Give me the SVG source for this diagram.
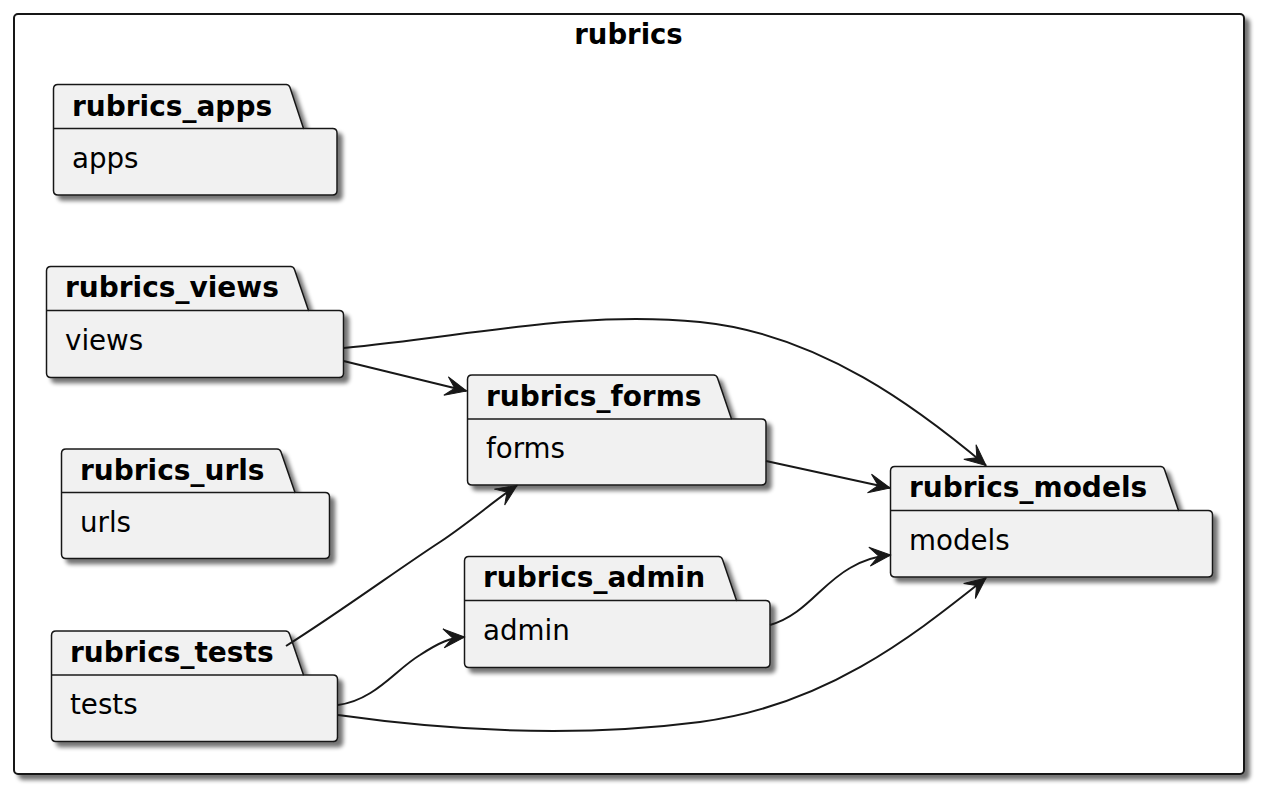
<svg xmlns="http://www.w3.org/2000/svg" width="1266" height="796" viewBox="0 0 1266 796">
<style>
.pk{fill:#F1F1F1;stroke:#181818;stroke-width:1.5;filter:url(#sh)}
.sep{fill:none;stroke:#181818;stroke-width:1.5}
.tt{font-family:"DejaVu Sans",sans-serif;font-weight:bold;font-size:28px;fill:#000}
.bt{font-family:"DejaVu Sans",sans-serif;font-size:27.7px;fill:#000}
.cn path{fill:none;stroke:#181818;stroke-width:2;marker-end:url(#arr)}
</style>
<defs>
<filter id="sh" x="-10%" y="-10%" width="130%" height="140%">
<feGaussianBlur in="SourceAlpha" stdDeviation="2"/>
<feOffset dx="5" dy="5"/>
<feComponentTransfer><feFuncA type="linear" slope="0.55"/></feComponentTransfer>
<feMerge><feMergeNode/><feMergeNode in="SourceGraphic"/></feMerge>
</filter>
<marker id="arr" markerUnits="userSpaceOnUse" orient="auto" refX="0" refY="0" markerWidth="30" markerHeight="30" viewBox="-25 -15 30 30" overflow="visible">
<path d="M0,0 L-21,-9.5 L-12,0 L-21,9.5 Z" fill="#181818" stroke="#181818" stroke-width="1"/>
</marker>
</defs>
<g id="rubrics">
<rect x="14" y="14" width="1230" height="760" rx="4" fill="#FFFFFF" stroke="#181818" stroke-width="2" filter="url(#sh)"/>
<text x="628.5" y="43.5" text-anchor="middle" class="tt" style="font-size:27.5px">rubrics</text>
</g>
<g id="rubrics_apps">
<path class="pk" d="M58,84.5 H286 Q289,84.5 290,87.5 L303.5,128.5 H332.5 Q337,128.5 337,133 V190.5 Q337,195 332.5,195 H58 Q53.5,195 53.5,190.5 V89 Q53.5,84.5 58,84.5 Z"/>
<path class="sep" d="M53.5,128.5 H303.5"/>
<text x="72" y="115.5" class="tt">rubrics_apps</text>
<text x="72" y="167.5" class="bt">apps</text>
</g>
<g id="rubrics_views">
<path class="pk" d="M51,266.5 H290.5 Q293.5,266.5 294.5,269.5 L308.5,310.5 H339 Q343.5,310.5 343.5,315 V373 Q343.5,377.5 339,377.5 H51 Q46.5,377.5 46.5,373 V271 Q46.5,266.5 51,266.5 Z"/>
<path class="sep" d="M46.5,310.5 H308.5"/>
<text x="65" y="297" class="tt">rubrics_views</text>
<text x="65" y="349.5" class="bt">views</text>
</g>
<g id="rubrics_urls">
<path class="pk" d="M66,449 H277 Q280,449 281,452 L295,492.5 H325 Q329.5,492.5 329.5,497 V554 Q329.5,558.5 325,558.5 H66 Q61.5,558.5 61.5,554 V453.5 Q61.5,449 66,449 Z"/>
<path class="sep" d="M61.5,492.5 H295"/>
<text x="80" y="479.5" class="tt">rubrics_urls</text>
<text x="80" y="531.5" class="bt">urls</text>
</g>
<g id="rubrics_tests">
<path class="pk" d="M56,631 H285.5 Q288.5,631 289.5,634 L303.5,675 H333 Q337.5,675 337.5,679.5 V737 Q337.5,741.5 333,741.5 H56 Q51.5,741.5 51.5,737 V635.5 Q51.5,631 56,631 Z"/>
<path class="sep" d="M51.5,675 H303.5"/>
<text x="70" y="661.5" class="tt">rubrics_tests</text>
<text x="70" y="714" class="bt">tests</text>
</g>
<g id="rubrics_forms">
<path class="pk" d="M472,375 H713.5 Q716.5,375 717.5,378 L731.5,419 H761.5 Q766,419 766,423.5 V480.5 Q766,485 761.5,485 H472 Q467.5,485 467.5,480.5 V379.5 Q467.5,375 472,375 Z"/>
<path class="sep" d="M467.5,419 H731.5"/>
<text x="486" y="405.5" class="tt">rubrics_forms</text>
<text x="486" y="458" class="bt">forms</text>
</g>
<g id="rubrics_admin">
<path class="pk" d="M469,556.5 H718.5 Q721.5,556.5 722.5,559.5 L736.5,600.5 H765.5 Q770,600.5 770,605 V663 Q770,667.5 765.5,667.5 H469 Q464.5,667.5 464.5,663 V561 Q464.5,556.5 469,556.5 Z"/>
<path class="sep" d="M464.5,600.5 H736.5"/>
<text x="483" y="587" class="tt">rubrics_admin</text>
<text x="483" y="639.5" class="bt">admin</text>
</g>
<g id="rubrics_models">
<path class="pk" d="M895,466.5 H1160.5 Q1163.5,466.5 1164.5,469.5 L1178.5,510.5 H1208 Q1212.5,510.5 1212.5,515 V572.5 Q1212.5,577 1208,577 H895 Q890.5,577 890.5,572.5 V471 Q890.5,466.5 895,466.5 Z"/>
<path class="sep" d="M890.5,510.5 H1178.5"/>
<text x="909" y="497" class="tt">rubrics_models</text>
<text x="909" y="550" class="bt">models</text>
</g>
<g id="connectors" class="cn">
<path d="M343.5,348 C470,336 580,310 700,322 C820,334 920,410 986,465.5"/>
<path d="M343.5,361 L466.5,391"/>
<path d="M766,461 L890,488"/>
<path d="M770,625 C805,615 820,585 850,568 C865,559 878,556 890.5,555"/>
<path d="M286,646 C340,612 400,568 440,542 C470,522 495,500 517,485.5"/>
<path d="M338,705 C375,700 395,670 420,655 C440,642 450,638 464.5,637"/>
<path d="M338,715 C430,728 560,740 700,722 C830,705 920,630 986,578"/>
</g>
</svg>
